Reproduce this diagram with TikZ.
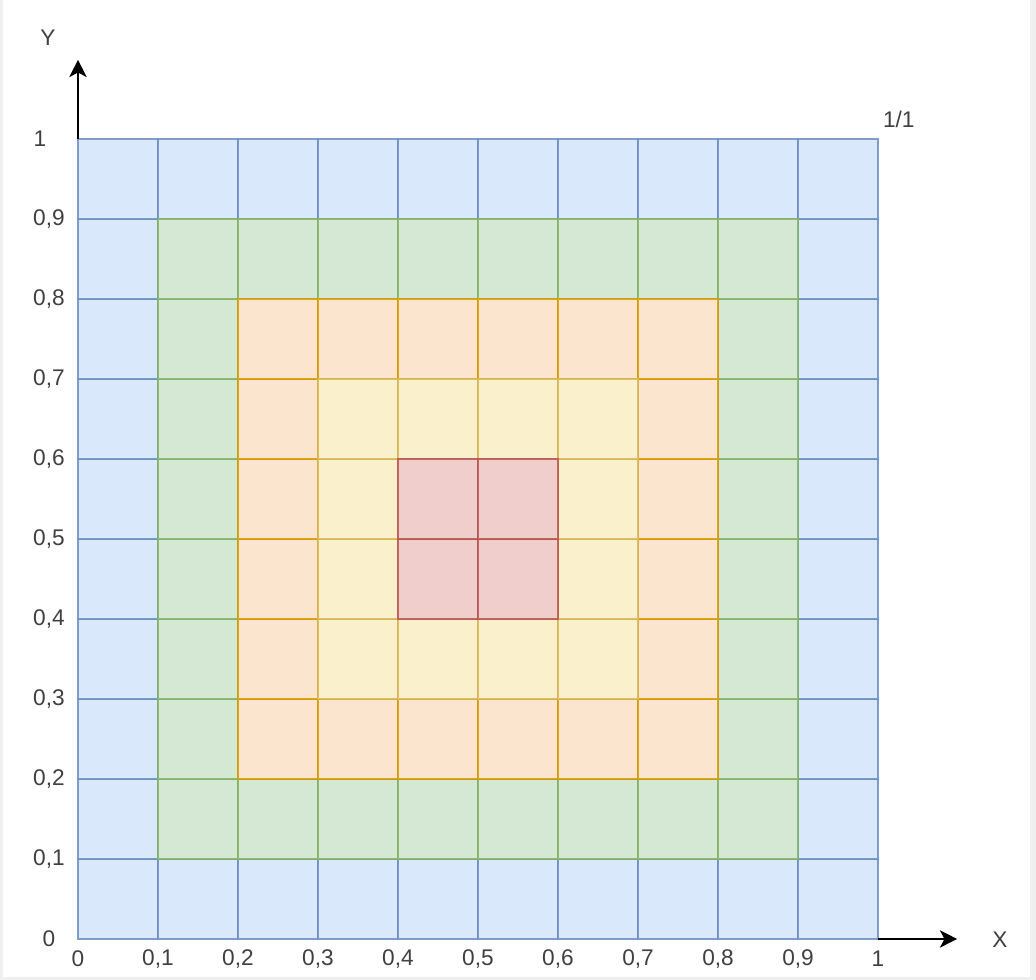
\documentclass[tikz,border=0pt]{standalone}
\usepackage{fontspec}
\setmainfont{Liberation Sans}
\usetikzlibrary{arrows.meta}
\definecolor{bluefill}{HTML}{DAE8FC}\definecolor{bluedraw}{HTML}{6C8EBF}
\definecolor{greenfill}{HTML}{D5E8D4}\definecolor{greendraw}{HTML}{82B366}
\definecolor{orangefill}{HTML}{FCE5CE}\definecolor{orangedraw}{HTML}{D79B00}
\definecolor{yellowfill}{HTML}{FBF0CC}\definecolor{yellowdraw}{HTML}{D6B656}
\definecolor{redfill}{HTML}{F0CECC}\definecolor{reddraw}{HTML}{B85450}
\definecolor{textgray}{HTML}{404040}
\definecolor{framegray}{HTML}{EFEFEF}
\tikzset{
  cell/.style={line width=1.2pt,draw opacity=0.85},
  bluecell/.style={cell,fill=bluefill,draw=bluedraw},
  greencell/.style={cell,fill=greenfill,draw=greendraw},
  orangecell/.style={cell,fill=orangefill,draw=orangedraw},
  yellowcell/.style={cell,fill=yellowfill,draw=yellowdraw},
  redcell/.style={cell,fill=redfill,draw=reddraw},
  axis/.style={line width=1.2pt,-{Stealth[length=13pt,width=13pt,inset=3.5pt]}},
  lbl/.style={text=textgray,font=\fontsize{17}{20}\selectfont,inner sep=0pt}
}
\begin{document}
\begin{tikzpicture}[x=60pt,y=60pt]
    % frame
    \fill[framegray](-0.975,-0.5125)rectangle(11.975,11.7375);
    \fill[white](-0.9375,-0.475)rectangle(11.9,11.7375);
    \useasboundingbox(-0.975,-0.5125)rectangle(11.975,11.7375);
    % rings of cells, inner ones on top
    \foreach \r/\s in {0/bluecell,1/greencell,2/orangecell,3/yellowcell,4/redcell}{
        \pgfmathtruncatemacro\e{9-\r}
        \foreach \i in {\r,...,\e}
            \foreach \j in {\r,...,\e}
                \draw[\s](\i,\j)rectangle++(1,1);
    }
    % axes
    \coordinate(O)at(0,0);
    \coordinate(ybase)at(0,10);
    \coordinate(ytip)at(0,10.99);
    \coordinate(xbase)at(10,0);
    \coordinate(xtip)at(10.99,0);
    \draw[axis](ybase)--(ytip);
    \draw[axis](xbase)--(xtip);
    \node[lbl](ylab)at(-0.375,11.26){Y};
    \node[lbl](xlab)at(11.525,-0.01){X};
    \node[lbl](corner)at(10.26,10.25){1/1};
    % ticks
    \node[lbl](x0)at(0,-0.25){0};
    \node[lbl](y0)at(-0.3625,0){0};
    \foreach \k in {1,...,9}{
        \node[lbl](x\k)at(\k,-0.25){0,\k};
        \node[lbl](y\k)at(-0.3625,\k){0,\k};
    }
    \node[lbl](x10)at(10,-0.25){1};
    \node[lbl](y10)at(-0.475,10){1};
\end{tikzpicture}
\end{document}
